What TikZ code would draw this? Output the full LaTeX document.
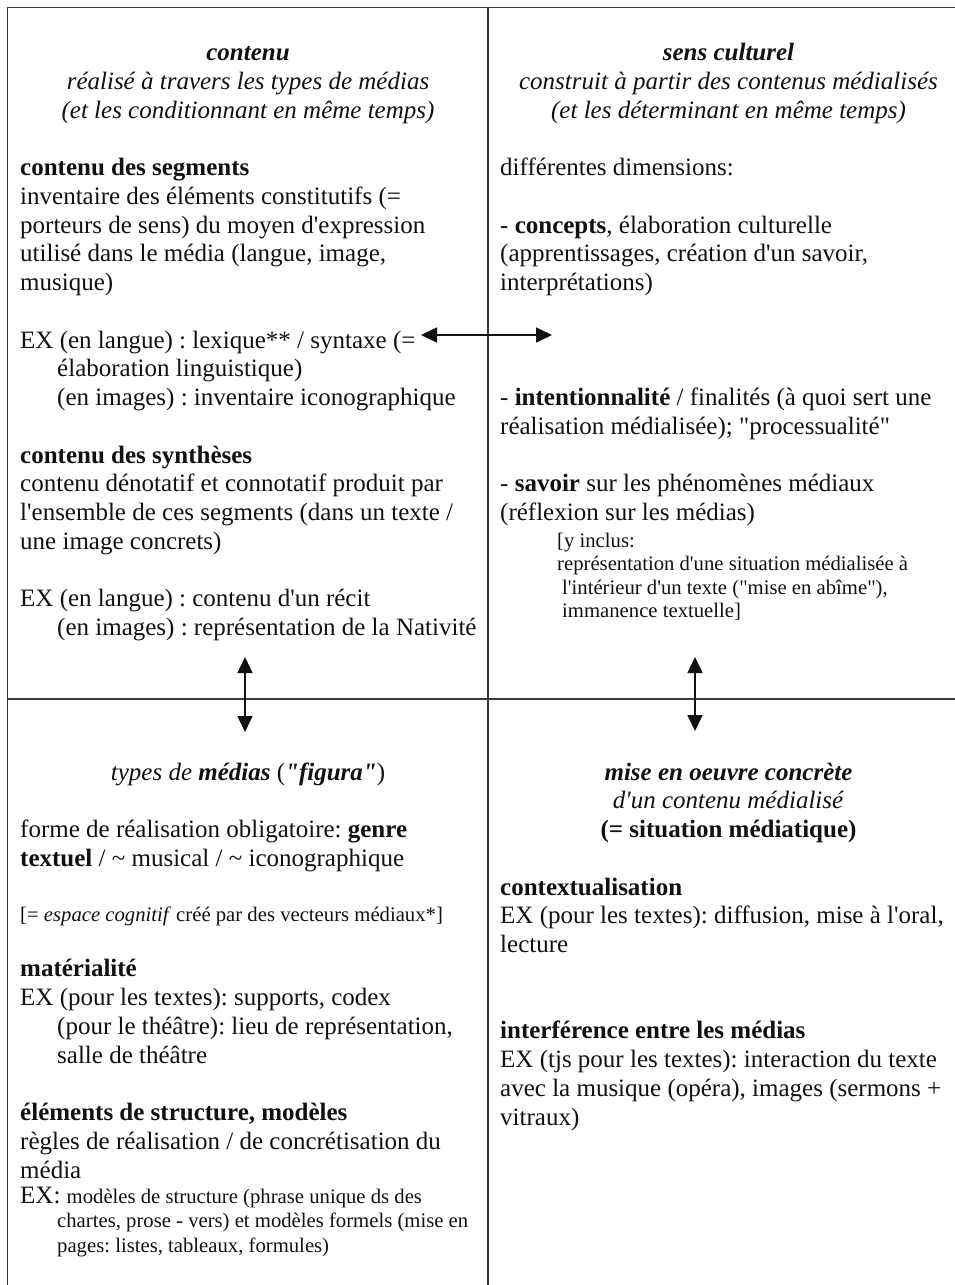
\documentclass[tikz,border=0pt]{standalone}
\usepackage{fontspec}
\setmainfont{Liberation Serif}[Ligatures=TeXOff]
\usetikzlibrary{arrows.meta}
\frenchspacing
\newcommand\normalsz{\fontsize{25}{28.75}\selectfont}
\newcommand\smallsz{\fontsize{20.7}{23.5}\selectfont}
\definecolor{ink}{HTML}{111111}
\definecolor{frame}{HTML}{3A3A3A}
\tikzset{
  txt/.style={anchor=base west, inner sep=0pt, font=\normalsz\frenchspacing, text=ink},
  ctr/.style={anchor=base, inner sep=0pt, font=\normalsz\frenchspacing, text=ink},
  smalltxt/.style={anchor=base west, inner sep=0pt, font=\smallsz\frenchspacing, text=ink},
  rule/.style={draw=frame, line width=1.8pt},
  dblarrow/.style={draw=ink, line width=1.6pt,
    {Triangle[length=16pt,width=15pt]}-{Triangle[length=16pt,width=15pt]}},
}
\begin{document}
\frenchspacing
\begin{tikzpicture}[x=1pt,y=-1pt]
\useasboundingbox (0,0) rectangle (955,1285);
\fill[white] (0,0) rectangle (955,1285);
% frame
\draw[rule] (7.5,1285) -- (7.5,7.5) -- (955,7.5);
\draw[rule] (488,7.5) -- (488,1285);
\draw[rule] (7.5,699) -- (955,699);

% ---------- top left ----------
\node[ctr] (tl1) at (248,60.5) {\textbf{\textit{contenu}}};
\node[ctr] (tl2) at (248,89.25) {\textit{réalisé à travers les types de médias}};
\node[ctr] (tl3) at (248,118) {\textit{(et les conditionnant en même temps)}};
\node[txt] (tl4) at (20,175.5) {\textbf{contenu des segments}};
\node[txt] (tl5) at (20,204.25) {inventaire des éléments constitutifs (=};
\node[txt] (tl6) at (20,233) {porteurs de sens) du moyen d'expression};
\node[txt] (tl7) at (20,261.75) {utilisé dans le média (langue, image,};
\node[txt] (tl8) at (20,290.5) {musique)};
\node[txt] (tl9) at (20,348) {EX (en langue) : lexique** / syntaxe (=};
\node[txt] (tl10) at (57,376.75) {élaboration linguistique)};
\node[txt] (tl11) at (57,405.5) {(en images) : inventaire iconographique};
\node[txt] (tl12) at (20,463) {\textbf{contenu des synthèses}};
\node[txt] (tl13) at (20,491.75) {contenu dénotatif et connotatif produit par};
\node[txt] (tl14) at (20,520.5) {l'ensemble de ces segments (dans un texte /};
\node[txt] (tl15) at (20,549.25) {une image concrets)};
\node[txt] (tl16) at (20,606.75) {EX (en langue) : contenu d'un récit};
\node[txt] (tl17) at (57,635.5) {(en images) : représentation de la Nativité};

% ---------- top right ----------
\node[ctr] (tr1) at (728.5,60.5) {\textbf{\textit{sens culturel}}};
\node[ctr] (tr2) at (728.5,89.25) {\textit{construit à partir des contenus médialisés}};
\node[ctr] (tr3) at (728.5,118) {\textit{(et les déterminant en même temps)}};
\node[txt] (tr4) at (500,175.5) {différentes dimensions:};
\node[txt] (tr5) at (500,233) {- \textbf{concepts}, élaboration culturelle};
\node[txt] (tr6) at (500,261.75) {(apprentissages, création d'un savoir,};
\node[txt] (tr7) at (500,290.5) {interprétations)};
\node[txt] (tr8) at (500,405.5) {- \textbf{intentionnalité} / finalités (à quoi sert une};
\node[txt] (tr9) at (500,434.25) {réalisation médialisée); "processualité"};
\node[txt] (tr10) at (500,491.75) {- \textbf{savoir} sur les phénomènes médiaux};
\node[txt] (tr11) at (500,520.5) {(réflexion sur les médias)};
\node[smalltxt] (tr12) at (557,547) {[y inclus:};
\node[smalltxt] (tr13) at (557,570.5) {représentation d'une situation médialisée à};
\node[smalltxt] (tr14) at (562,594) {l'intérieur d'un texte ("mise en abîme"),};
\node[smalltxt] (tr15) at (562,617.5) {immanence textuelle]};

% ---------- bottom left ----------
\node[ctr] (bl1) at (248,780) {\textit{types de \textbf{médias}} (\textbf{\textit{"figura"}})};
\node[txt] (bl2) at (20,837.5) {forme de réalisation obligatoire: \textbf{genre}};
\node[txt] (bl3) at (20,866.25) {\textbf{textuel} / \textasciitilde{} musical / \textasciitilde{} iconographique};
\node[smalltxt] (bl4) at (20,921) {[= \textit{espace cognitif} créé par des vecteurs médiaux*]};
\node[txt] (bl5) at (20,976.75) {\textbf{matérialité}};
\node[txt] (bl6) at (20,1005.5) {EX (pour les textes): supports, codex};
\node[txt] (bl7) at (57,1034.25) {(pour le théâtre): lieu de représentation,};
\node[txt] (bl8) at (57,1063) {salle de théâtre};
\node[txt] (bl9) at (20,1120.5) {\textbf{éléments de structure, modèles}};
\node[txt] (bl10) at (20,1149.25) {règles de réalisation / de concrétisation du};
\node[txt] (bl11) at (20,1178) {média};
\node[txt] (bl12) at (20,1203) {EX: {\smallsz modèles de structure (phrase unique ds des}};
\node[smalltxt] (bl13) at (57,1227.5) {chartes, prose - vers) et modèles formels (mise en};
\node[smalltxt] (bl14) at (57,1252) {pages: listes, tableaux, formules)};

% ---------- bottom right ----------
\node[ctr] (br1) at (728.5,780) {\textbf{\textit{mise en oeuvre concrète}}};
\node[ctr] (br2) at (728.5,808.75) {\textit{d'un contenu médialisé}};
\node[ctr] (br3) at (728.5,837.5) {\textbf{(= situation médiatique)}};
\node[txt] (br4) at (500,895) {\textbf{contextualisation}};
\node[txt] (br5) at (500,923.75) {EX (pour les textes): diffusion, mise à l'oral,};
\node[txt] (br6) at (500,952.5) {lecture};
\node[txt] (br7) at (500,1038.75) {\textbf{interférence entre les médias}};
\node[txt] (br8) at (500,1067.5) {EX (tjs pour les textes): interaction du texte};
\node[txt] (br9) at (500,1096.25) {avec la musique (opéra), images (sermons +};
\node[txt] (br10) at (500,1125) {vitraux)};

% ---------- arrows ----------
\coordinate (hA) at (421,335);
\coordinate (hB) at (552,335);
\coordinate (vLa) at (245,657);
\coordinate (vLb) at (245,732);
\coordinate (vRa) at (695,657);
\coordinate (vRb) at (695,731);
\draw[dblarrow] (hA) -- (hB);
\draw[dblarrow] (vLa) -- (vLb);
\draw[dblarrow] (vRa) -- (vRb);
\end{tikzpicture}
\end{document}
